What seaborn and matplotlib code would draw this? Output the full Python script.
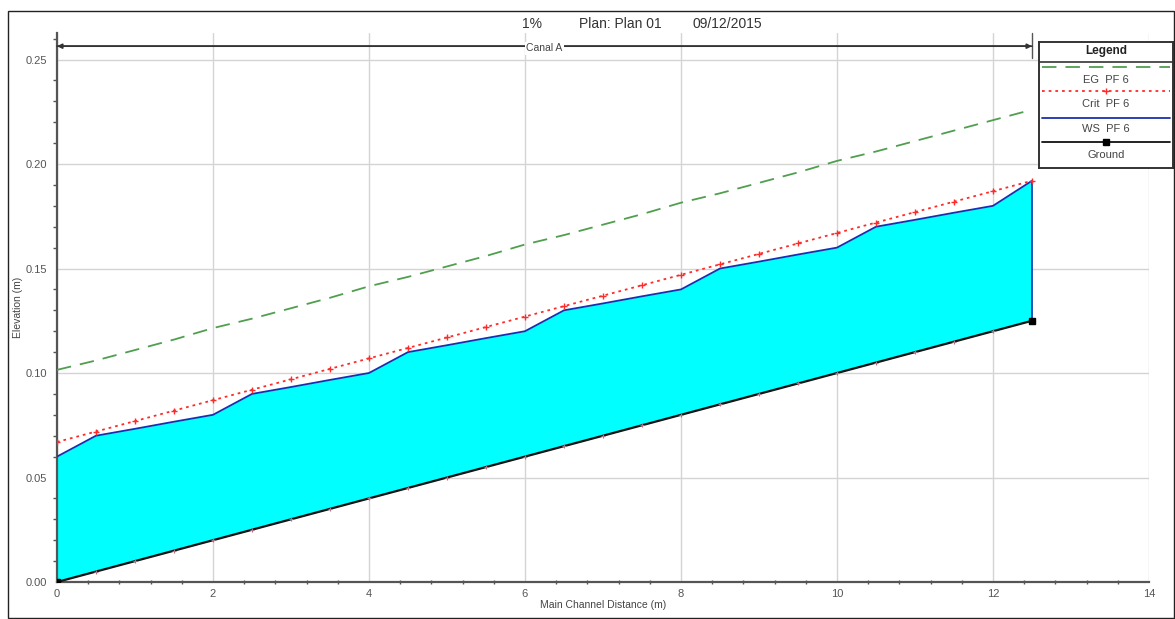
import matplotlib
matplotlib.use("Agg")
import matplotlib.pyplot as plt
import matplotlib.transforms as mtransforms
from matplotlib.patches import Rectangle
from matplotlib.ticker import MultipleLocator
import seaborn as sns
import pandas as pd

# ---- data ----
distance = [0.0, 0.5, 1.0, 1.5, 2.0, 2.5, 3.0, 3.5, 4.0, 4.5, 5.0, 5.5, 6.0,
            6.5, 7.0, 7.5, 8.0, 8.5, 9.0, 9.5, 10.0, 10.5, 11.0, 11.5, 12.0, 12.5]
ground = [0.000, 0.005, 0.010, 0.015, 0.020, 0.025, 0.030, 0.035, 0.040, 0.045,
          0.050, 0.055, 0.060, 0.065, 0.070, 0.075, 0.080, 0.085, 0.090, 0.095,
          0.100, 0.105, 0.110, 0.115, 0.120, 0.125]
ws = [0.060, 0.070, 0.0733, 0.0767, 0.080, 0.090, 0.0933, 0.0967, 0.100, 0.110,
      0.1133, 0.1167, 0.120, 0.130, 0.1333, 0.1367, 0.140, 0.150, 0.1533, 0.1567,
      0.160, 0.170, 0.1733, 0.1767, 0.180, 0.192]
crit = [0.067, 0.072, 0.077, 0.082, 0.087, 0.092, 0.097, 0.102, 0.107, 0.112,
        0.117, 0.122, 0.127, 0.132, 0.137, 0.142, 0.147, 0.152, 0.157, 0.162,
        0.167, 0.172, 0.177, 0.182, 0.187, 0.192]
eg = [0.1015, 0.1060, 0.1110, 0.1160, 0.1215, 0.1260, 0.1310, 0.1360, 0.1415,
      0.1460, 0.1510, 0.1560, 0.1615, 0.1660, 0.1710, 0.1760, 0.1815, 0.1860,
      0.1910, 0.1960, 0.2015, 0.2060, 0.2110, 0.2160, 0.2210, 0.2260]

title_parts = ["1%", "Plan: Plan 01", "09/12/2015"]
reach_label = "Canal A"
legend_title = "Legend"
legend_labels = ["EG  PF 6", "Crit  PF 6", "WS  PF 6", "Ground"]
x_ticks = [0, 2, 4, 6, 8, 10, 12, 14]
y_ticks = [0.00, 0.05, 0.10, 0.15, 0.20, 0.25]

df = pd.DataFrame({"distance": distance, "ground": ground, "ws": ws,
                   "crit": crit, "eg": eg})

# ---- style ----
sns.set_theme(style="white")
plt.rcParams["font.family"] = ["Liberation Sans", "DejaVu Sans"]

W, H = 1175, 619
fig = plt.figure(figsize=(W / 100, H / 100), dpi=100)
ax = fig.add_axes([57 / W, 1 - 582 / H, (1149 - 57) / W, (582 - 33) / H])

eg_c = "#4f9f4f"
crit_c = "#ff2a2a"
ws_c = "#1a2fb0"
fill_c = "#00ffff"

ax.fill_between(df["distance"], df["ground"], df["ws"], color=fill_c, lw=0, zorder=2)
sns.lineplot(data=df, x="distance", y="ws", ax=ax, color=ws_c, lw=1.3, zorder=4)
ax.plot([distance[-1], distance[-1]], [ground[-1], ws[-1]], color=ws_c, lw=1.2, zorder=4)
sns.lineplot(data=df, x="distance", y="crit", ax=ax, color=crit_c, lw=1.3,
             linestyle=(0, (1.5, 2.2)), marker="+", markersize=4,
             markeredgewidth=1.0, markeredgecolor=crit_c, zorder=5)
sns.lineplot(data=df, x="distance", y="eg", ax=ax, color=eg_c, lw=1.3,
             linestyle=(0, (8, 5)), zorder=5)
sns.lineplot(data=df, x="distance", y="ground", ax=ax, color="#111111", lw=1.6,
             marker="+", markersize=3, markeredgecolor="#b07080",
             markeredgewidth=0.8, zorder=6)
ax.plot([distance[0], distance[-1]], [ground[0], ground[-1]], linestyle="none",
        marker="s", markersize=4.5, color="black", zorder=7)

ax.set_xlim(0, 14)
ax.set_ylim(0, 0.2627)
ax.set_xticks(x_ticks)
ax.set_xticklabels([str(t) for t in x_ticks])
ax.set_yticks(y_ticks)
ax.set_yticklabels([f"{t:.2f}" for t in y_ticks])
ax.xaxis.set_minor_locator(MultipleLocator(0.4))
ax.yaxis.set_minor_locator(MultipleLocator(0.01))

ax.grid(True, which="major", color="#d4d4d4", lw=1.0, zorder=0)
ax.set_axisbelow(True)
for s in ["top", "right"]:
    ax.spines[s].set_visible(False)
for s in ["left", "bottom"]:
    ax.spines[s].set_color("#555555")
    ax.spines[s].set_linewidth(1.6)

ax.tick_params(axis="both", which="major", labelsize=8, labelcolor="#555555",
               colors="#555555", length=4, width=1, pad=3)
ax.tick_params(axis="x", which="both", direction="inout")
ax.tick_params(axis="y", which="both", direction="out")
ax.tick_params(axis="both", which="minor", length=3, width=1, colors="#555555",
               bottom=True, left=True)

ax.set_xlabel("Main Channel Distance (m)", fontsize=7.5, color="#444444", labelpad=1)
ax.set_ylabel("Elevation (m)", fontsize=7.5, color="#444444", labelpad=2)

# reach bracket
trans = mtransforms.blended_transform_factory(ax.transData, ax.transAxes)
yb = 0.976
for a, b in [(distance[0], distance[-1]), (distance[-1], distance[0])]:
    ax.annotate("", xy=(b, yb), xytext=(a, yb),
                xycoords=trans, textcoords=trans,
                arrowprops=dict(arrowstyle="-|>", color="#333333", lw=1.2,
                                shrinkA=0, shrinkB=0, mutation_scale=7),
                annotation_clip=False)
ax.plot([distance[-1], distance[-1]], [0.955, 1.0], transform=trans,
        color="#555555", lw=1.0, clip_on=False)
ax.text((distance[0] + distance[-1]) / 2, yb - 0.004, reach_label, transform=trans,
        ha="center", va="center", fontsize=7.5, color="#444444",
        bbox=dict(facecolor="white", edgecolor="none", pad=1.0), zorder=8)

# title
for xc, part in zip([532, 620, 727], title_parts):
    fig.text(xc / W, 1 - 24 / H, part, ha="center", va="center",
             fontsize=10, color="#333333")

# outer border
fig.patches.append(Rectangle((8 / W, 1 - 618 / H), (1174 - 8) / W, (618 - 11) / H,
                             transform=fig.transFigure, fill=False,
                             edgecolor="#222222", lw=1.0))

# legend box
lax = fig.add_axes([1039 / W, 1 - 168 / H, (1173 - 1039) / W, (168 - 42) / H])
lax.set_xlim(1039, 1173)
lax.set_ylim(168, 42)
lax.set_xticks([])
lax.set_yticks([])
lax.set_facecolor("white")
for s in lax.spines.values():
    s.set_color("#333333")
    s.set_linewidth(1.4)
lax.axhline(62, color="#333333", lw=1.2)
lax.text(1106, 51, legend_title, ha="center", va="center", fontsize=8.5,
         fontweight="bold", color="#222222")
lx = [1042, 1170]
lax.plot(lx, [67, 67], color=eg_c, lw=1.3, linestyle=(0, (8, 5)))
lax.plot(lx, [91, 91], color=crit_c, lw=1.3, linestyle=(0, (1.5, 2.2)))
lax.plot([1106], [91], marker="+", color=crit_c, ms=4)
lax.plot(lx, [118, 118], color=ws_c, lw=1.3)
lax.plot(lx, [142, 142], color="#111111", lw=1.3)
lax.plot([1106], [142], marker="s", color="black", ms=4)
for yy, lab in zip([80, 104, 129, 155], legend_labels):
    lax.text(1106, yy, lab, ha="center", va="center", fontsize=8, color="#444444")

fig.savefig("out.png", dpi=100, facecolor="white")
